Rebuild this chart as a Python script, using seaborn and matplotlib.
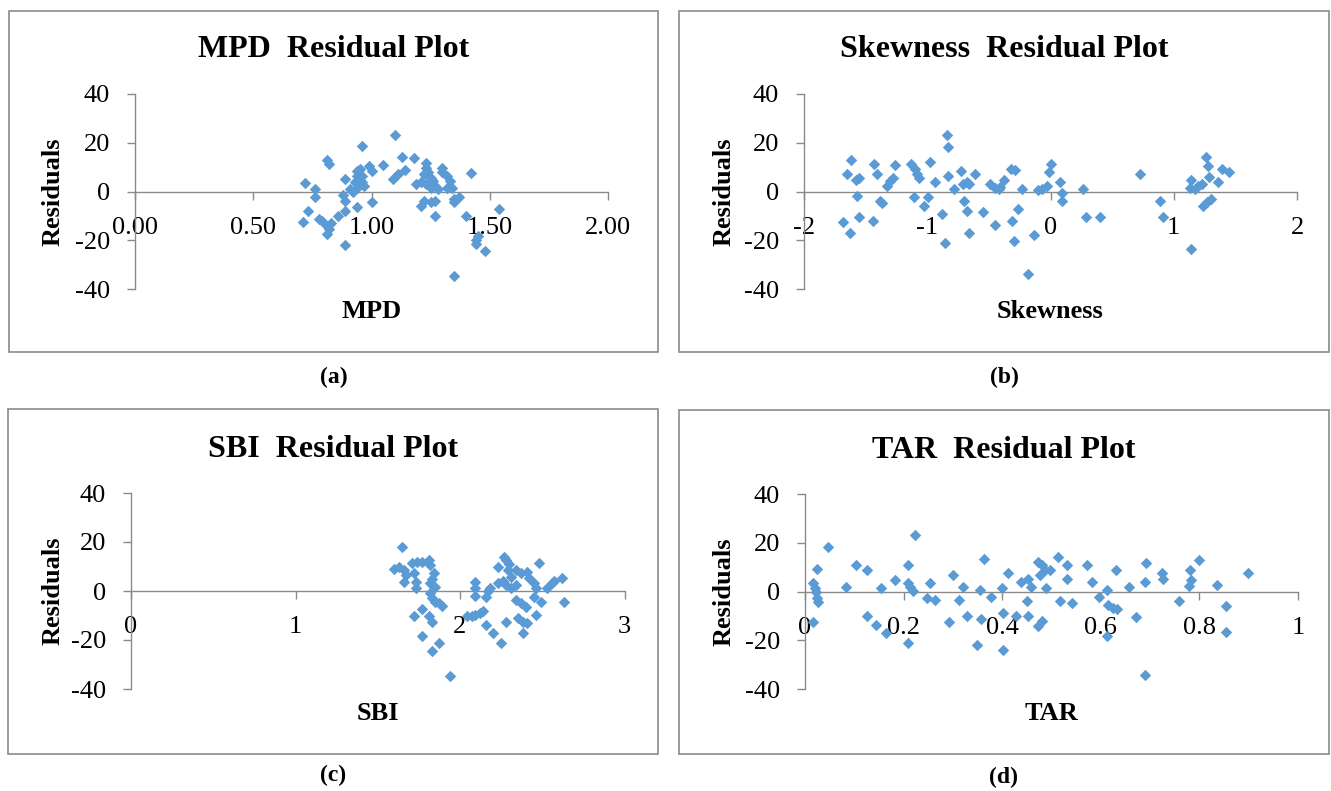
import matplotlib
matplotlib.use("Agg")
import matplotlib.pyplot as plt
from matplotlib.patches import Rectangle
from matplotlib.ticker import FixedLocator, FuncFormatter
import seaborn as sns
import pandas as pd

# ---------------- data ----------------
mpd_x = [1.10, 0.96, 0.81, 0.82, 0.72, 0.76, 0.76, 0.73, 0.71, 0.78, 0.79, 0.81, 0.82, 0.81,
         0.83, 0.86, 0.89, 0.89, 0.89, 0.88, 0.89, 0.94, 0.95, 0.94, 0.93, 0.96, 0.97, 0.96,
         0.94, 0.92, 0.91, 0.94, 1.00, 0.99, 1.00, 1.05, 1.13, 1.18, 1.14, 1.11, 1.09, 1.23,
         1.23, 1.22, 1.24, 1.25, 1.21, 1.19, 1.23, 1.26, 1.27, 1.25, 1.28, 1.30, 1.30, 1.32,
         1.33, 1.32, 1.34, 1.22, 1.25, 1.27, 1.21, 1.27, 1.35, 1.37, 1.35, 1.42, 1.40, 1.54,
         1.45, 1.44, 1.44, 1.48, 1.35]
mpd_res = [23.1, 18.5, 12.8, 11.4, 3.5, 1.0, -2.4, -7.9, -12.6, -11.3, -12.0, -14.0, -15.4, -17.5,
           -13.0, -9.9, -7.8, -21.8, 5.0, -1.3, -4.0, 8.4, 9.1, 6.4, 3.7, 3.7, 2.3, 6.4,
           1.6, -0.4, 1.0, -6.2, -4.5, 10.6, 8.4, 10.9, 14.2, 13.6, 8.9, 7.3, 5.3, 11.8,
           9.8, 7.1, 7.8, 5.7, 3.7, 3.0, 3.0, 4.3, 2.3, 1.6, 1.0, 9.8, 7.8, 6.4,
           4.3, 1.6, 1.6, -3.8, -4.5, -3.8, -5.8, -9.9, -3.1, -2.4, -4.5, 7.5, -9.9, -7.2,
           -18.1, -20.1, -21.5, -24.5, -34.8]

skew_x = [-1.62, -1.65, -1.58, -1.55, -1.57, -1.68, -1.63, -1.55, -1.44, -1.43, -1.41, -1.38,
          -1.37, -1.33, -1.30, -1.28, -1.26, -1.13, -1.10, -1.08, -1.07, -1.11, -1.03, -0.99,
          -0.98, -0.94, -0.88, -0.86, -0.84, -0.83, -0.83, -0.78, -0.73, -0.71, -0.68, -0.66,
          -0.70, -0.68, -0.66, -0.61, -0.55, -0.49, -0.45, -0.41, -0.42, -0.38, -0.45, -0.32,
          -0.29, -0.31, -0.26, -0.30, -0.23, -0.18, -0.13, -0.10, 0.00, -0.01, -0.03, -0.07,
          0.08, 0.09, 0.09, 0.26, 0.29, 0.40, 0.73, 0.89, 0.91, 1.14, 1.13, 1.17, 1.20, 1.23,
          1.26, 1.28, 1.29, 1.36, 1.39, 1.45, 1.24, 1.27, 1.30, 1.14]
skew_res = [12.8, 7.3, 4.9, 5.4, -1.8, -12.6, -17.1, -10.6, -12.0, 11.4, 7.3, -3.8,
            -4.6, 2.3, 4.3, 5.4, 10.9, 11.4, 9.1, 7.1, 5.4, -2.4, -5.8, -2.4,
            12.1, 3.7, -9.2, -21.2, 23.1, 18.2, 6.4, 1.0, 8.6, 3.0, 4.1, 3.0,
            -3.8, -7.9, -17.1, 7.3, -8.6, 3.0, 1.6, 1.9, 1.0, 4.6, -13.6, 9.4,
            9.0, -12.3, -7.2, -20.4, 1.0, -34.0, -17.7, 0.6, 11.4, 7.8, 2.3, 1.0,
            3.7, -0.8, -4.1, 1.0, -10.4, -10.4, 7.3, -3.8, -10.4, 4.6, 1.6, 1.0, 2.3, 3.0,
            14.2, 10.5, 6.0, 4.0, 9.4, 7.8, -5.8, -4.5, -3.1, -23.5]

sbi_x = [1.65, 1.60, 1.63, 1.66, 1.67, 1.66, 1.71, 1.74, 1.77, 1.81, 1.82, 1.72, 1.73, 1.73,
         1.84, 1.83, 1.82, 1.85, 1.82, 1.83, 1.85, 1.87, 1.89, 1.72, 1.77, 1.81, 1.83, 1.77,
         1.83, 1.87, 1.94, 2.04, 2.07, 2.09, 2.12, 2.14, 2.09, 2.09, 2.09, 2.17, 2.18, 2.16,
         2.16, 2.20, 2.25, 2.23, 2.23, 2.26, 2.27, 2.28, 2.30, 2.29, 2.31, 2.28, 2.31, 2.34,
         2.34, 2.37, 2.41, 2.42, 2.45, 2.46, 2.48, 2.34, 2.37, 2.40, 2.35, 2.38, 2.41, 2.38,
         2.28, 2.45, 2.49, 2.46, 2.53, 2.56, 2.57, 2.62, 2.63]
sbi_res = [18.0, 8.8, 9.9, 8.6, 6.5, 3.8, 11.5, 11.9, 11.9, 12.6, 10.6, 7.2, 3.8, 1.1,
           7.2, 5.1, 3.1, 1.8, -1.0, -3.0, -4.4, -5.0, -6.1, -10.2, -7.4, -10.2, -12.5, -18.3,
           -24.6, -21.3, -34.5, -10.4, -10.2, -9.8, -9.1, -8.0, 3.8, 1.1, -2.0, 0.1, 1.1, -2.3,
           -13.8, -17.0, -21.3, 9.9, 3.1, 4.2, 13.8, 12.6, 11.2, 8.6, 5.8, 2.4, 1.1, 2.4,
           8.6, 7.2, 7.9, 5.2, 3.1, 1.1, 11.5, -3.7, -5.0, -6.4, -11.1, -12.5, -13.1, -17.2,
           -12.5, -2.3, -4.4, -9.7, 1.1, 3.1, 4.2, 5.2, -4.4]

tar_x = [0.016, 0.020, 0.022, 0.024, 0.027, 0.017, 0.025, 0.047, 0.083, 0.103, 0.125, 0.125,
         0.144, 0.164, 0.154, 0.183, 0.208, 0.208, 0.213, 0.220, 0.208, 0.223, 0.247, 0.254,
         0.264, 0.293, 0.301, 0.313, 0.320, 0.329, 0.348, 0.355, 0.358, 0.363, 0.377, 0.399,
         0.402, 0.401, 0.412, 0.429, 0.439, 0.453, 0.450, 0.453, 0.458, 0.473, 0.480, 0.477,
         0.487, 0.489, 0.473, 0.480, 0.497, 0.514, 0.531, 0.531, 0.517, 0.541, 0.573, 0.582,
         0.597, 0.612, 0.615, 0.625, 0.632, 0.613, 0.631, 0.658, 0.672, 0.689, 0.692, 0.689,
         0.724, 0.727, 0.758, 0.781, 0.782, 0.778, 0.800, 0.836, 0.854, 0.854, 0.899]
tar_res = [3.3, 1.3, 0.0, -2.8, -4.5, -12.7, 9.4, 18.2, 1.9, 10.8, 8.7, -10.2,
           -13.6, -17.0, 1.3, 4.7, 10.8, 3.3, 1.9, 0.3, -21.0, 23.0, -2.7, 3.3,
           -3.4, -12.7, 6.7, -3.4, 1.9, -10.2, -21.8, 0.6, -11.3, 13.5, -2.4, 1.3,
           -8.9, -24.0, 7.4, -10.2, 3.9, 5.3, -4.1, -10.2, 1.9, 12.1, 10.8, 6.7,
           8.7, 1.3, -14.3, -12.3, 8.7, 14.2, 10.8, 5.0, -4.1, -4.8, 10.8, 3.9,
           -2.4, 0.8, -5.5, -6.8, -7.3, -18.3, 8.7, 1.9, -10.5, 3.9, 11.8, -34.3,
           7.6, 5.3, -4.1, 8.7, 4.6, 2.2, 12.8, 2.6, -5.9, -16.7, 7.4]

titles = ["MPD  Residual Plot", "Skewness  Residual Plot", "SBI  Residual Plot", "TAR  Residual Plot"]
xlabels = ["MPD", "Skewness", "SBI", "TAR"]
panel_tags = ["(a)", "(b)", "(c)", "(d)"]
y_ticks = [-40, -20, 0, 20, 40]
x_ticks_list = [[0.0, 0.5, 1.0, 1.5, 2.0], [-2, -1, 0, 1, 2], [0, 1, 2, 3],
                [0, 0.2, 0.4, 0.6, 0.8, 1.0]]

# ---------------- style ----------------
sns.set_theme(style="white")
plt.rcParams["font.family"] = ["Liberation Serif", "DejaVu Serif"]
plt.rcParams["axes.unicode_minus"] = False

W, H = 1331, 791
fig = plt.figure(figsize=(W / 100, H / 100), dpi=100)
fig.patch.set_facecolor("white")

GRAY = "#8a8a8a"
BLUE = "#5B9BD5"

# layout (pixels): axes extents, frame boxes, text anchors
axes_px = [(135, 608, 94, 289), (804, 1297, 94, 289), (131, 624.5, 493, 689), (805, 1298, 494, 689)]
boxes_px = [(9, 658, 11, 352), (679, 1329, 11, 352), (8, 658, 409, 754), (679, 1329, 410, 754)]
title_base = [57, 57, 457, 458]
xlabel_base = [318, 318, 720.5, 720.5]
tag_y = [377, 377, 775, 777]
ylabel_x = [53, 724, 53, 724]

fmts = [lambda v, p: f"{v:.2f}",
        lambda v, p: f"{v:g}",
        lambda v, p: f"{v:g}",
        lambda v, p: f"{v:g}"]
xlims = [(0, 2), (-2, 2), (0, 3), (0, 1)]
datasets = [(mpd_x, mpd_res), (skew_x, skew_res), (sbi_x, sbi_res), (tar_x, tar_res)]

for i in range(4):
    x0, x1, yt, yb = axes_px[i]
    ax = fig.add_axes([x0 / W, 1 - yb / H, (x1 - x0) / W, (yb - yt) / H])
    ax.set_facecolor("none")
    df = pd.DataFrame({"x": datasets[i][0], "res": datasets[i][1]})
    sns.scatterplot(data=df, x="x", y="res", ax=ax, marker="D", s=34,
                    color=BLUE, linewidth=0, clip_on=False, zorder=3)
    ax.set_xlim(*xlims[i])
    ax.set_ylim(-40, 40)
    ax.spines["top"].set_visible(False)
    ax.spines["right"].set_visible(False)
    ax.spines["bottom"].set_position(("data", 0))
    for sp in ("left", "bottom"):
        ax.spines[sp].set_color(GRAY)
        ax.spines[sp].set_linewidth(1.0)
    ax.xaxis.set_major_locator(FixedLocator(x_ticks_list[i]))
    ax.xaxis.set_major_formatter(FuncFormatter(fmts[i]))
    ax.yaxis.set_major_locator(FixedLocator(y_ticks))
    ax.tick_params(axis="both", direction="out", length=6, width=1.0, color=GRAY,
                   pad=12, labelsize=19, labelcolor="black",
                   bottom=True, left=True)
    ax.set_xlabel("")
    ax.set_ylabel("")
    ax.grid(False)

    bx0, bx1, by0, by1 = boxes_px[i]
    fig.add_artist(Rectangle((bx0 / W, 1 - by1 / H), (bx1 - bx0) / W, (by1 - by0) / H,
                             transform=fig.transFigure, fill=False,
                             edgecolor=GRAY, linewidth=1.2))
    cx = (bx0 + bx1) / 2
    fig.text(cx / W, 1 - title_base[i] / H, titles[i], ha="center", va="baseline",
             fontsize=23, fontweight="bold", color="black")
    fig.text(((x0 + x1) / 2) / W, 1 - xlabel_base[i] / H, xlabels[i], ha="center",
             va="baseline", fontsize=19, fontweight="bold", color="black")
    fig.text(ylabel_x[i] / W, 1 - ((yt + yb) / 2) / H, "Residuals", ha="center",
             va="center", rotation=90, fontsize=19, fontweight="bold", color="black")
    fig.text(cx / W, 1 - tag_y[i] / H, panel_tags[i], ha="center", va="center",
             fontsize=17, fontweight="bold", color="black")

fig.savefig("out.png", dpi=100, facecolor="white")
